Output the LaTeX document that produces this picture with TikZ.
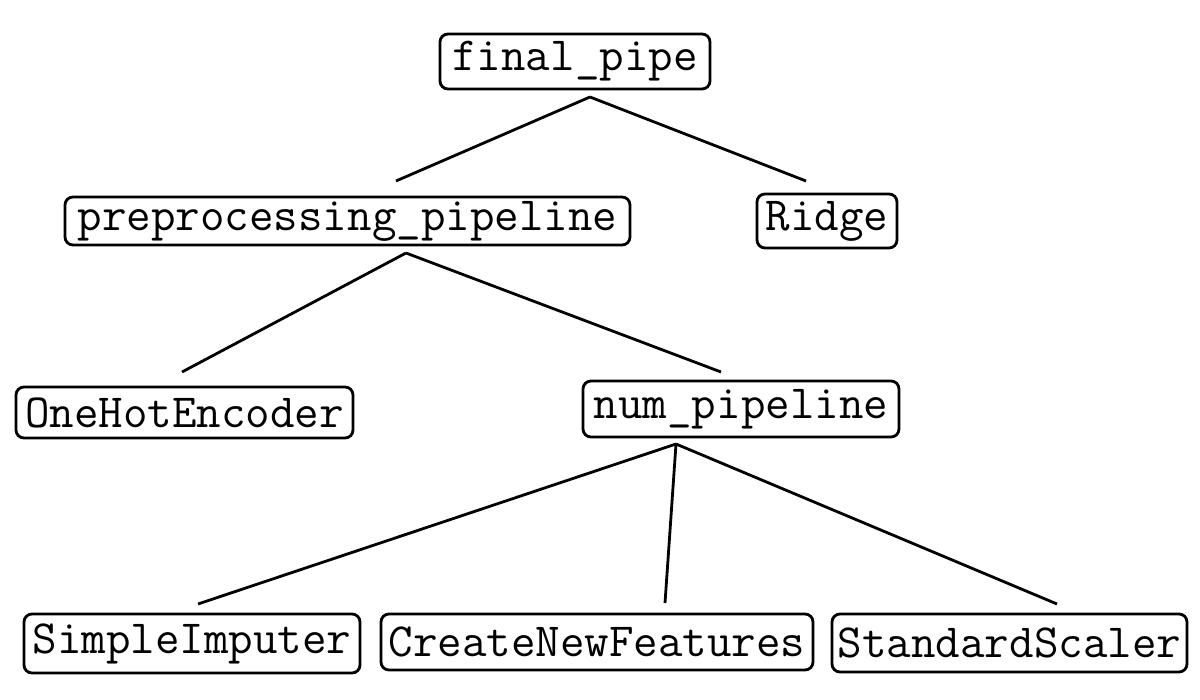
\documentclass[tikz,border=0pt]{standalone}
\usepackage{fontspec}
\begin{document}
\begin{tikzpicture}[x=0.5pt,y=-0.5pt,
  box/.style={draw,line width=1.4pt,rounded corners=4pt,inner sep=0pt,
    font=\ttfamily\fontsize{23.8pt}{27pt}\selectfont},
  link/.style={line width=1.4pt}]
\useasboundingbox (0,0) rectangle (1200,700);
\node[box,minimum width=135pt,minimum height=27.5pt] (fp) at (575,61.5) {final\_pipe};
\node[box,minimum width=282.5pt,minimum height=24pt] (pp) at (347.5,221) {preprocessing\_pipeline};
\node[box,minimum width=70pt,minimum height=27pt] (ri) at (827,221) {Ridge};
\node[box,minimum width=168.5pt,minimum height=25.5pt] (oh) at (184.5,412.5) {OneHotEncoder};
\node[box,minimum width=158pt,minimum height=28pt] (np) at (741,409) {num\_pipeline};
\node[box,minimum width=168pt,minimum height=29.5pt] (si) at (192,643.5) {SimpleImputer};
\node[box,minimum width=216pt,minimum height=28pt] (cn) at (597,642) {CreateNewFeatures};
\node[box,minimum width=177.5pt,minimum height=29pt] (ss) at (1009.5,643) {StandardScaler};
% connector end points
\coordinate (fpo) at (590,97);
\coordinate (ppi) at (396,181);
\coordinate (rii) at (806,181);
\coordinate (ppo) at (406,253);
\coordinate (ohi) at (182,372);
\coordinate (npi) at (721,372);
\coordinate (npo) at (676,444);
\coordinate (sii) at (198,604);
\coordinate (cni) at (665,603);
\coordinate (ssi) at (1057,604);
\draw[link] (fpo) -- (ppi);
\draw[link] (fpo) -- (rii);
\draw[link] (ppo) -- (ohi);
\draw[link] (ppo) -- (npi);
\draw[link] (npo) -- (sii);
\draw[link] (npo) -- (cni);
\draw[link] (npo) -- (ssi);
\end{tikzpicture}
\end{document}
